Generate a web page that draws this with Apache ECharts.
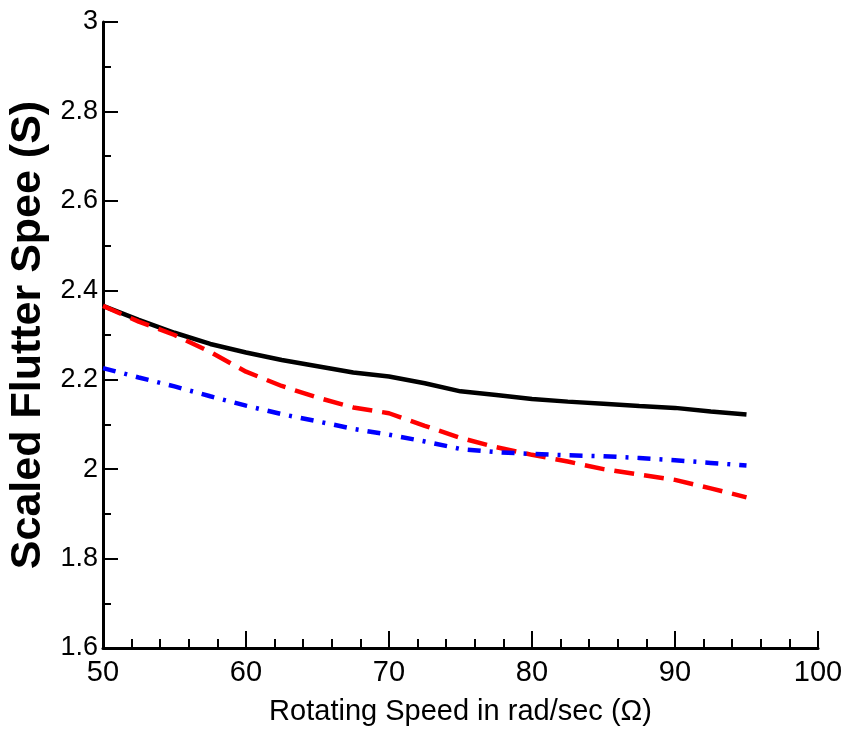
<!DOCTYPE html>
<html>
<head>
<meta charset="utf-8">
<script src="https://cdn.jsdelivr.net/npm/echarts@6/dist/echarts.min.js"></script>
<style>
html,body{margin:0;padding:0;background:#fff;}
#chart{width:845px;height:731px;}
</style>
</head>
<body>
<div id="chart"></div>
<script>
const xValues = [50, 52.5, 55, 57.5, 60, 62.5, 65, 67.5, 70, 72.5, 75, 77.5, 80, 82.5, 85, 87.5, 90, 92.5, 95];
const blackSolid = [2.365, 2.334, 2.305, 2.280, 2.261, 2.244, 2.230, 2.216, 2.207, 2.192, 2.174, 2.166, 2.157, 2.151, 2.146, 2.141, 2.137, 2.129, 2.122];
const redDashed = [2.365, 2.330, 2.300, 2.262, 2.218, 2.186, 2.160, 2.138, 2.125, 2.097, 2.070, 2.049, 2.032, 2.017, 2.000, 1.988, 1.976, 1.957, 1.937];
const blueDashDot = [2.226, 2.205, 2.185, 2.163, 2.142, 2.123, 2.107, 2.090, 2.077, 2.062, 2.045, 2.038, 2.034, 2.031, 2.029, 2.025, 2.020, 2.014, 2.008];
const xAxisTitle = 'Rotating Speed in rad/sec (Ω)';
const yAxisTitle = 'Scaled Flutter Spee (S)';

const pairs = ys => xValues.map((x, i) => [x, ys[i]]);
const sans = "'Liberation Sans', Arial, Helvetica, sans-serif";

const chart = echarts.init(document.getElementById('chart'));
chart.setOption({
  animation: false,
  backgroundColor: '#fff',
  grid: { left: 103, right: 27, top: 22, bottom: 83, containLabel: false, outerBoundsMode: 'none' },
  xAxis: {
    type: 'value', min: 50, max: 100, interval: 10,
    name: xAxisTitle, nameLocation: 'middle', nameGap: 49,
    nameTextStyle: { fontFamily: sans, fontSize: 29, color: '#000' },
    axisLine: { show: true, lineStyle: { color: '#000', width: 3 } },
    axisTick: { show: true, inside: true, length: 17, lineStyle: { color: '#000', width: 2 } },
    minorTick: { show: true, splitNumber: 5, length: 9, lineStyle: { color: '#000', width: 2 } },
    axisLabel: { fontFamily: sans, fontSize: 29, color: '#000', margin: 10, showMinLabel: true, showMaxLabel: true },
    splitLine: { show: false }
  },
  yAxis: {
    type: 'value', min: 1.6, max: 3.0, interval: 0.2,
    name: yAxisTitle, nameLocation: 'middle', nameGap: 48,
    nameTextStyle: { fontFamily: sans, fontWeight: 'bold', fontSize: 43, color: '#000' },
    axisLine: { show: true, lineStyle: { color: '#000', width: 3 } },
    axisTick: { show: true, inside: true, length: 15, lineStyle: { color: '#000', width: 2 } },
    minorTick: { show: true, splitNumber: 2, length: 8, lineStyle: { color: '#000', width: 2 } },
    axisLabel: { fontFamily: sans, fontSize: 27, color: '#000', margin: 5,
      formatter: v => String(parseFloat(v.toFixed(1))) },
    splitLine: { show: false }
  },
  series: [
    { type: 'line', data: pairs(blackSolid), showSymbol: false, smooth: false,
      lineStyle: { color: '#000', width: 4.5, type: 'solid' } },
    { type: 'line', data: pairs(redDashed), showSymbol: false,
      lineStyle: { color: '#ff0000', width: 4.5, type: [20, 10] } },
    { type: 'line', data: pairs(blueDashDot), showSymbol: false,
      lineStyle: { color: '#0000ff', width: 4.5, type: [13, 9, 3, 9] } }
  ]
});
</script>
</body>
</html>
